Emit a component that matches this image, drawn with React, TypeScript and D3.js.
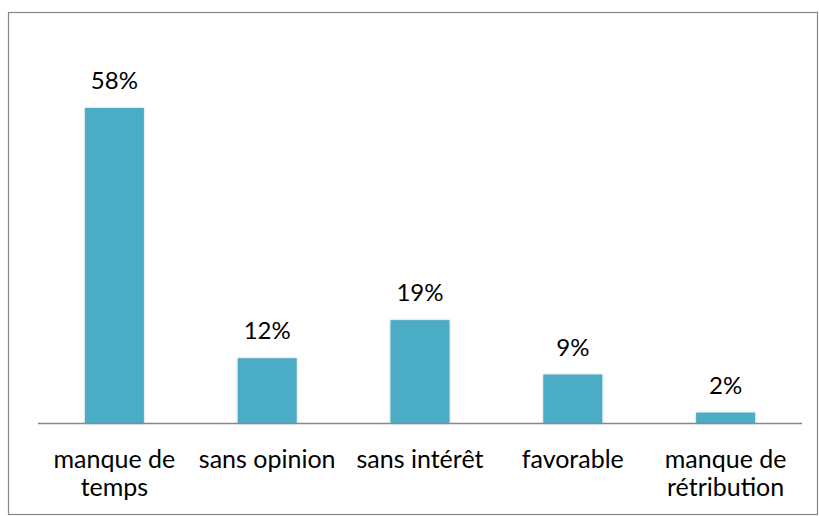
import React from "react";
import * as d3 from "d3";

const categories: string[][] = [
  ["manque de", "temps"],
  ["sans opinion"],
  ["sans intérêt"],
  ["favorable"],
  ["manque de", "rétribution"],
];
const values: number[] = [58, 12, 19, 9, 2];
const labels: string[] = ["58%", "12%", "19%", "9%", "2%"];

const W = 819;
const H = 516;
const FONT = "Lato, 'Open Sans', sans-serif";

export default function App() {
  const x0 = 38, x1 = 802;
  const baseY = 423.5;
  const x = d3
    .scaleBand<number>()
    .domain(values.map((_, i) => i))
    .range([x0, x1])
    .paddingInner(0.614)
    .paddingOuter(0.307);
  const y = d3.scaleLinear().domain([0, 58]).range([baseY, 108]);

  return (
    <svg
      width={W}
      height={H}
      style={{ position: "absolute", left: 0, top: 0, background: "#fff" }}
    >
      <defs>
        <filter id="sh" x="-20%" y="-20%" width="140%" height="140%">
          <feDropShadow dx="0" dy="0" stdDeviation="1.2" floodColor="#000" floodOpacity="0.25" />
        </filter>
      </defs>
      <rect x={8.5} y={12.5} width={809} height={502} fill="#fff" stroke="#868686" strokeWidth={1.2} />
      {values.map((v, i) => (
        <rect
          key={i}
          x={x(i)}
          y={y(v)}
          width={x.bandwidth()}
          height={baseY - y(v)}
          fill="#4BACC6"
          filter="url(#sh)"
        />
      ))}
      <line x1={x0} x2={x1} y1={baseY} y2={baseY} stroke="#898989" strokeWidth={1.5} />
      {values.map((v, i) => (
        <text
          key={"l" + i}
          x={(x(i) as number) + x.bandwidth() / 2}
          y={y(v) - 19}
          textAnchor="middle"
          fontFamily={FONT}
          fontSize={24}
          fill="#000"
        >
          {labels[i]}
        </text>
      ))}
      {categories.map((lines, i) => (
        <text
          key={"c" + i}
          x={(x(i) as number) + x.bandwidth() / 2}
          y={468}
          textAnchor="middle"
          fontFamily={FONT}
          fontSize={25}
          fill="#000"
        >
          {lines.map((t, j) => (
            <tspan key={j} x={(x(i) as number) + x.bandwidth() / 2} dy={j === 0 ? 0 : 28}>
              {t}
            </tspan>
          ))}
        </text>
      ))}
    </svg>
  );
}
